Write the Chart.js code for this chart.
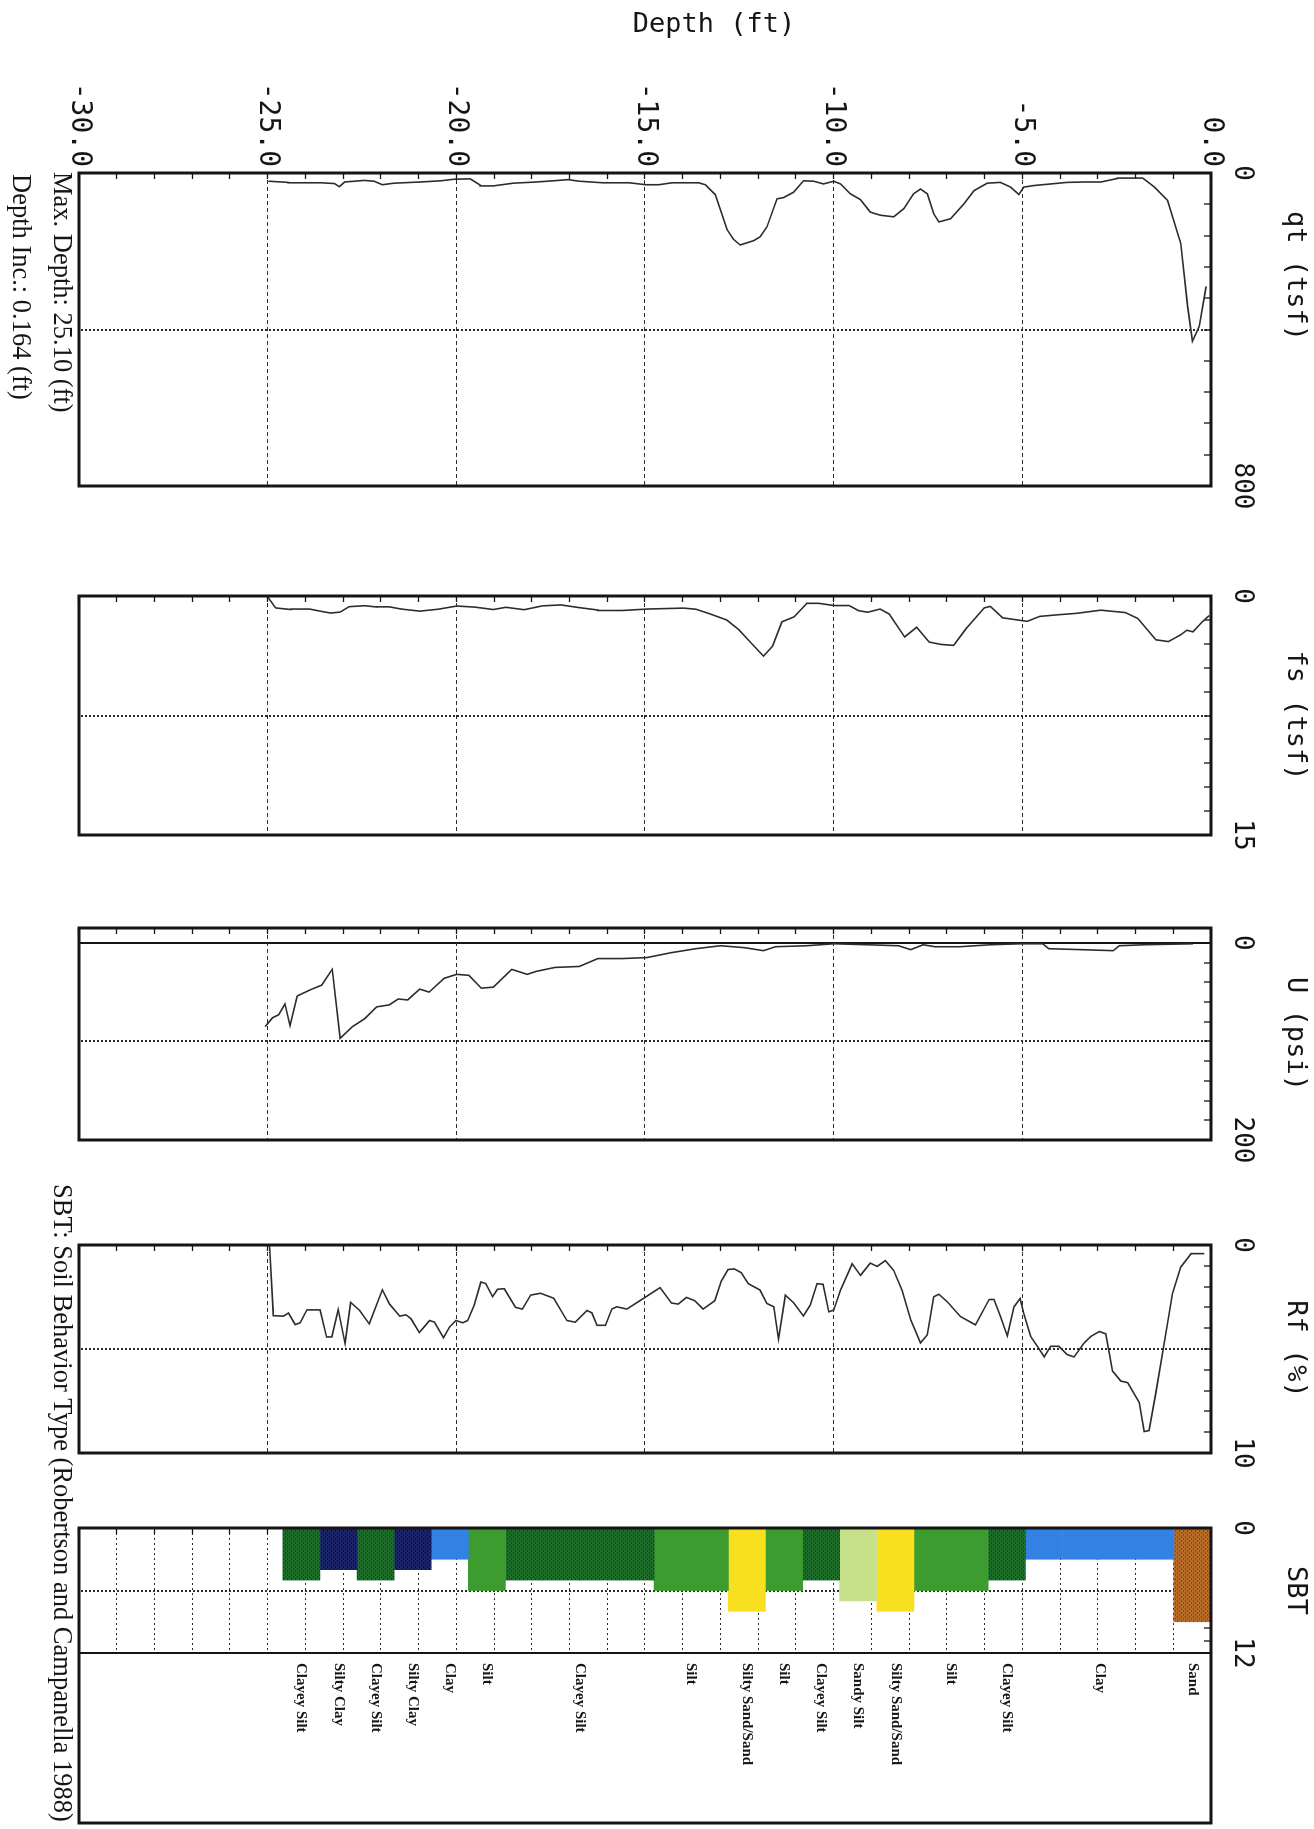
<!DOCTYPE html>
<html>
<head>
<meta charset="utf-8">
<title>CPT sounding log</title>
<script src="https://cdn.jsdelivr.net/npm/chart.js@4.4.1/dist/chart.umd.min.js"></script>
<style>
  html, body { margin: 0; padding: 0; background: #fff; }
  body { width: 1314px; height: 1829px; overflow: hidden; position: relative; }
  /* the log sheet is laid out in portrait-of-depth form and turned a quarter turn clockwise */
  #sheet { position: absolute; left: 0; top: 0; width: 1829px; height: 1314px;
           transform-origin: 0 0; transform: translateX(1314px) rotate(90deg); }
  #sheet canvas { position: absolute; left: 0; top: 0; }
</style>
</head>
<body>
<div id="sheet">
  <canvas id="qt"  width="1829" height="1314"></canvas>
  <canvas id="fs"  width="1829" height="1314"></canvas>
  <canvas id="u"   width="1829" height="1314"></canvas>
  <canvas id="rf"  width="1829" height="1314"></canvas>
  <canvas id="sbt" width="1829" height="1314"></canvas>
</div>
<script>
// ---- sounding data: [depth (ft), value] ----
const qtProfile = [
  [-24.98, 21], [-24.46, 24], [-23.58, 25], [-23.23, 27], [-23.10, 35], [-22.96, 23], [-22.44, 19],
  [-22.18, 21], [-21.96, 30], [-21.65, 26], [-20.95, 23], [-20.42, 20], [-20.07, 16], [-19.63, 15],
  [-19.37, 31], [-19.02, 33], [-18.49, 26], [-17.88, 23], [-17.44, 20], [-17.04, 17], [-16.74, 21],
  [-16.12, 25], [-15.42, 25], [-14.98, 30], [-14.63, 30], [-14.28, 25], [-13.58, 25], [-13.40, 30],
  [-13.14, 55], [-12.96, 106], [-12.83, 144], [-12.66, 169], [-12.48, 184], [-12.12, 173], [-11.95, 163],
  [-11.77, 138], [-11.50, 66], [-11.33, 63], [-11.06, 49], [-10.80, 20], [-10.53, 21], [-10.27, 28],
  [-10.00, 21], [-9.82, 28], [-9.56, 53], [-9.29, 68], [-9.03, 100], [-8.76, 108], [-8.41, 112],
  [-8.14, 91], [-7.88, 53], [-7.70, 41], [-7.52, 53], [-7.35, 104], [-7.21, 125], [-6.90, 117],
  [-6.55, 79], [-6.28, 45], [-5.93, 26], [-5.58, 24], [-5.31, 36], [-5.09, 55], [-4.96, 36],
  [-4.69, 32], [-4.25, 28], [-3.81, 24], [-3.36, 23], [-2.92, 23], [-2.48, 14], [-2.04, 13],
  [-1.81, 13], [-1.50, 36], [-1.15, 70], [-0.80, 180], [-0.62, 341], [-0.49, 430], [-0.31, 392],
  [-0.13, 290]
];

const fsProfile = [
  [-25.00, 0.05], [-24.79, 0.75], [-24.38, 0.85], [-23.89, 0.82], [-23.57, 0.97], [-23.33, 1.07],
  [-23.08, 1.01], [-22.84, 0.67], [-22.43, 0.61], [-22.11, 0.69], [-21.78, 0.68], [-21.46, 0.82],
  [-20.97, 0.95], [-20.48, 0.83], [-19.99, 0.63], [-19.50, 0.70], [-19.02, 0.85], [-18.69, 0.71],
  [-18.20, 0.86], [-17.72, 0.62], [-17.23, 0.56], [-16.74, 0.73], [-16.25, 0.88], [-15.60, 0.91],
  [-14.95, 0.82], [-13.98, 0.76], [-13.65, 0.83], [-13.33, 1.08], [-12.84, 1.50], [-12.51, 2.12],
  [-12.19, 2.94], [-11.86, 3.77], [-11.62, 3.15], [-11.37, 1.62], [-11.05, 1.31], [-10.72, 0.49],
  [-10.40, 0.46], [-9.99, 0.60], [-9.59, 0.60], [-9.34, 0.92], [-9.10, 1.02], [-8.77, 0.82],
  [-8.53, 1.13], [-8.12, 2.57], [-7.80, 1.96], [-7.47, 2.89], [-7.15, 3.04], [-6.82, 3.10],
  [-6.50, 2.08], [-6.01, 0.75], [-5.85, 0.65], [-5.52, 1.37], [-5.20, 1.48], [-4.87, 1.59],
  [-4.54, 1.28], [-4.06, 1.18], [-3.57, 1.09], [-2.92, 0.89], [-2.27, 1.04], [-1.94, 1.41],
  [-1.46, 2.75], [-1.13, 2.86], [-0.81, 2.45], [-0.64, 2.15], [-0.48, 2.25], [-0.24, 1.64],
  [-0.05, 1.23]
];

const uProfile = [
  [-25.07, 85], [-24.87, 76], [-24.71, 73], [-24.54, 62], [-24.41, 84], [-24.22, 54], [-23.89, 48],
  [-23.57, 43], [-23.29, 27], [-23.08, 97], [-22.75, 85], [-22.43, 77], [-22.11, 65], [-21.78, 63],
  [-21.54, 57], [-21.29, 58], [-20.97, 47], [-20.72, 50], [-20.32, 36], [-19.99, 32], [-19.67, 33],
  [-19.34, 46], [-19.02, 45], [-18.53, 27], [-18.12, 32], [-17.88, 29], [-17.39, 25], [-16.74, 24],
  [-16.25, 16], [-15.60, 16], [-14.95, 15], [-14.30, 10], [-13.65, 6], [-13.00, 3], [-12.35, 5],
  [-11.86, 8], [-11.54, 4], [-10.72, 3], [-9.99, 1], [-9.10, 2], [-8.28, 3], [-7.96, 7], [-7.63, 2],
  [-7.31, 4], [-6.66, 4], [-5.85, 2], [-5.03, 1], [-4.46, 1], [-4.30, 6], [-3.41, 7], [-2.59, 8],
  [-2.43, 3], [-1.78, 2], [-0.48, 1]
];

const rfProfile = [
  [-24.95, 0.0], [-24.85, 3.40], [-24.58, 3.42], [-24.45, 3.27], [-24.27, 3.83], [-24.14, 3.74],
  [-23.96, 3.12], [-23.61, 3.12], [-23.44, 4.42], [-23.30, 4.42], [-23.13, 3.11], [-22.95, 4.73],
  [-22.80, 2.76], [-22.56, 3.15], [-22.31, 3.79], [-21.96, 2.16], [-21.77, 2.84], [-21.50, 3.42],
  [-21.33, 3.36], [-21.20, 3.55], [-20.98, 4.21], [-20.71, 3.63], [-20.58, 3.71], [-20.34, 4.46],
  [-20.18, 3.94], [-20.01, 3.63], [-19.83, 3.74], [-19.70, 3.63], [-19.53, 2.92], [-19.35, 1.78],
  [-19.22, 1.85], [-19.04, 2.48], [-18.91, 2.13], [-18.73, 2.10], [-18.43, 3.00], [-18.25, 3.08],
  [-18.03, 2.41], [-17.77, 2.32], [-17.42, 2.56], [-17.07, 3.63], [-16.85, 3.71], [-16.54, 3.15],
  [-16.41, 3.26], [-16.27, 3.86], [-16.05, 3.86], [-15.88, 3.08], [-15.75, 2.97], [-15.48, 3.08],
  [-15.00, 2.52], [-14.60, 2.05], [-14.30, 2.79], [-14.12, 2.84], [-13.90, 2.52], [-13.68, 2.68],
  [-13.46, 3.08], [-13.15, 2.68], [-12.98, 1.74], [-12.80, 1.18], [-12.63, 1.15], [-12.45, 1.33],
  [-12.26, 1.86], [-11.95, 2.17], [-11.77, 2.81], [-11.59, 2.97], [-11.46, 4.52], [-11.28, 2.41],
  [-11.06, 2.78], [-10.80, 3.41], [-10.62, 2.89], [-10.44, 1.86], [-10.28, 1.89], [-10.13, 3.21],
  [-10.00, 3.13], [-9.82, 2.17], [-9.51, 0.90], [-9.29, 1.46], [-9.03, 0.87], [-8.85, 1.03],
  [-8.63, 0.75], [-8.41, 1.22], [-8.19, 2.17], [-7.96, 3.60], [-7.70, 4.71], [-7.52, 4.32],
  [-7.35, 2.49], [-7.21, 2.37], [-6.99, 2.73], [-6.64, 3.44], [-6.24, 3.84], [-5.88, 2.62],
  [-5.75, 2.62], [-5.58, 3.44], [-5.40, 4.37], [-5.22, 2.97], [-5.06, 2.57], [-4.96, 3.29],
  [-4.78, 4.40], [-4.60, 4.87], [-4.42, 5.38], [-4.25, 4.87], [-4.03, 4.87], [-3.81, 5.27],
  [-3.63, 5.38], [-3.36, 4.71], [-3.19, 4.40], [-2.96, 4.16], [-2.79, 4.27], [-2.61, 6.06],
  [-2.39, 6.54], [-2.21, 6.62], [-1.90, 7.57], [-1.77, 8.97], [-1.64, 8.92], [-1.46, 7.10],
  [-1.24, 4.71], [-1.02, 2.33], [-0.80, 1.06], [-0.53, 0.43], [-0.35, 0.40], [-0.18, 0.43]
];

// soil behaviour type, one entry per 0.3 m (0.984 ft) layer, top down
const sbtDepth = [
  -0.492, -1.476, -2.460, -3.444, -4.428, -5.412, -6.396, -7.380, -8.364, -9.348,
  -10.332, -11.316, -12.300, -13.284, -14.268, -15.252, -16.236, -17.220, -18.204, -19.188,
  -20.172, -21.156, -22.140, -23.124, -24.108
];
const sbtSoil = [
  'Sand', 'Clay', 'Clay', 'Clay', 'Clay', 'Clayey Silt', 'Silt', 'Silt', 'Silty Sand/Sand', 'Sandy Silt',
  'Clayey Silt', 'Silt', 'Silty Sand/Sand', 'Silt', 'Silt', 'Clayey Silt', 'Clayey Silt', 'Clayey Silt',
  'Clayey Silt', 'Silt', 'Clay', 'Silty Clay', 'Clayey Silt', 'Silty Clay', 'Clayey Silt'
];
const sbtZone = [9, 3, 3, 3, 3, 5, 6, 6, 8, 7, 5, 6, 8, 6, 6, 5, 5, 5, 5, 6, 3, 4, 5, 4, 5];

// ---- axes ----
const depthRange = [-30, 0];
const panelTitles = ['qt (tsf)', 'fs (tsf)', 'U (psi)', 'Rf (%)', 'SBT'];
const panelRanges = [[0, 800], [0, 15], [0, 200], [0, 10], [0, 12]];

// ---- sheet geometry (unrotated sheet pixels) ----
const SHEET = { w: 1829, h: 1314, top: 103, bottom: 1235 };
const SPANS = [[173, 486], [596, 835], [928, 1140], [1245, 1453], [1528, 1653]];
const SBT_BOX_END = 1823;

const MONO = '"DejaVu Sans Mono", monospace';
const SERIF = '"Liberation Serif", "Times New Roman", serif';
const INK = '#151515';
const CLEAR = 'rgba(0,0,0,0)';

Chart.defaults.font.family = MONO;
Chart.defaults.color = INK;

function stipple(canvas, base, dot) {
  const tile = document.createElement('canvas');
  tile.width = 4; tile.height = 4;
  const g = tile.getContext('2d');
  g.fillStyle = base; g.fillRect(0, 0, 4, 4);
  g.fillStyle = dot; g.fillRect(0, 0, 2, 1); g.fillRect(2, 2, 2, 1);
  return canvas.getContext('2d').createPattern(tile, 'repeat');
}

const framePlugin = (extendTo) => ({
  id: 'panelFrame',
  afterDraw(chart) {
    const { ctx, chartArea: a } = chart;
    ctx.save();
    ctx.strokeStyle = INK;
    ctx.lineWidth = 3;
    ctx.strokeRect(a.left, a.top, (extendTo || a.right) - a.left, a.bottom - a.top);
    if (extendTo) {
      ctx.lineWidth = 2;
      ctx.beginPath(); ctx.moveTo(a.right, a.top); ctx.lineTo(a.right, a.bottom); ctx.stroke();
    }
    ctx.restore();
  }
});

const captionPlugin = (items) => ({
  id: 'sheetCaptions',
  afterDraw(chart) {
    const ctx = chart.ctx;
    for (const c of items) {
      ctx.save();
      ctx.translate(c.x, c.y);
      ctx.rotate(c.rotate || 0);
      ctx.font = c.font;
      ctx.fillStyle = INK;
      ctx.textAlign = c.align;
      ctx.textBaseline = 'middle';
      ctx.fillText(c.text, 0, 0);
      ctx.restore();
    }
  }
});

const sbtLabelPlugin = {
  id: 'sbtLabels',
  afterDraw(chart) {
    const { ctx, chartArea: a, scales: { y } } = chart;
    ctx.save();
    ctx.font = 'bold 15px ' + SERIF;
    ctx.fillStyle = INK;
    ctx.textAlign = 'left';
    ctx.textBaseline = 'middle';
    let start = 0;
    for (let i = 1; i <= sbtSoil.length; i++) {
      if (i === sbtSoil.length || sbtSoil[i] !== sbtSoil[start]) {
        const centre = (sbtDepth[start] + sbtDepth[i - 1]) / 2;
        ctx.fillText(sbtSoil[start], a.right + 10, y.getPixelForValue(centre));
        start = i;
      }
    }
    ctx.restore();
  }
};

function panelChart(id, spec) {
  const [lo, hi] = spec.range;
  const axisLo = spec.axisMin !== undefined ? spec.axisMin : lo;
  const tickValues = [];
  for (let k = 0; k <= 10; k++) tickValues.push(lo + (hi - lo) * k / 10);
  const mid = (lo + hi) / 2;
  const yBox = spec.depthLabels ? spec.span[0] : 24;
  const everyFoot = !!spec.everyFoot;

  const isMid = c => c.tick && Math.abs(c.tick.value - mid) < 1e-9;
  const isZero = c => spec.zeroLine && c.tick && c.tick.value === 0;
  const depthLine = c => {
    if (!c.tick) return false;
    const v = c.tick.value;
    if (v <= depthRange[0] || v >= depthRange[1]) return false;
    return everyFoot || v % 5 === 0;
  };

  const plugins = [framePlugin(spec.extendTo)].concat(spec.plugins || []);

  return new Chart(document.getElementById(id), {
    type: spec.type,
    data: spec.data,
    options: {
      responsive: false,
      animation: false,
      events: [],
      indexAxis: spec.indexAxis || 'x',
      layout: { padding: { left: spec.span[0] - yBox, right: SHEET.w - spec.span[1], top: 0, bottom: SHEET.h - SHEET.bottom } },
      plugins: { legend: { display: false }, tooltip: { enabled: false } },
      scales: {
        x: {
          type: 'linear', position: 'top', min: axisLo, max: hi, offset: false, beginAtZero: false,
          afterFit: s => { s.height = SHEET.top; },
          afterBuildTicks: s => { s.ticks = tickValues.map(value => ({ value })); },
          ticks: {
            autoSkip: false, maxRotation: 0, minRotation: 0, padding: 22,
            font: { family: MONO, size: 26 }, color: INK,
            callback: v => (v === lo || v === hi) ? String(v) : ''
          },
          grid: {
            offset: false,
            color: c => isZero(c) ? INK : (isMid(c) ? '#2a2a2a' : CLEAR),
            lineWidth: c => isZero(c) ? 2 : 2,
            tickLength: -7, tickColor: INK, tickWidth: 1.3
          },
          border: { display: false, dash: c => isMid(c) ? [2, 2] : [] },
          title: {
            display: !spec.titleAt, text: spec.title, color: INK,
            font: { family: MONO, size: 27 }, padding: { top: 3, bottom: 0 }
          }
        },
        y: {
          type: 'linear', min: depthRange[0], max: depthRange[1], offset: false,
          afterFit: s => { s.width = yBox; },
          ticks: {
            stepSize: 1, autoSkip: false, display: !!spec.depthLabels, padding: 12,
            font: { family: MONO, size: 28 }, color: INK,
            callback: v => v % 5 === 0 ? v.toFixed(1) : ''
          },
          grid: {
            offset: false,
            color: c => depthLine(c) ? '#2a2a2a' : CLEAR,
            lineWidth: 1,
            tickLength: -6, tickColor: INK, tickWidth: 1.3
          },
          border: { display: false, dash: c => c.tick ? (everyFoot ? [2, 3] : [4, 3]) : [] }
        }
      }
    },
    plugins
  });
}

function lineData(profile) {
  return {
    datasets: [{
      data: profile.map(([d, v]) => ({ x: v, y: d })),
      showLine: true, borderColor: '#2c2c2c', borderWidth: 1.6,
      pointRadius: 0, tension: 0
    }]
  };
}

// tip resistance, with the sheet captions
panelChart('qt', {
  type: 'scatter', data: lineData(qtProfile), title: panelTitles[0], range: panelRanges[0],
  span: SPANS[0], depthLabels: true, titleAt: true,
  plugins: [captionPlugin([
    { text: panelTitles[0], x: 276, y: 19, align: 'center', font: '27px ' + MONO },
    { text: 'Depth (ft)', x: 25, y: 600, rotate: -Math.PI / 2, align: 'center', font: '27px ' + MONO },
    { text: 'Max. Depth: 25.10 (ft)', x: 172, y: 1253, align: 'left', font: '26.5px ' + SERIF },
    { text: 'Depth Inc.: 0.164 (ft)', x: 174, y: 1294, align: 'left', font: '26.5px ' + SERIF },
    { text: 'SBT: Soil Behavior Type (Robertson and Campanella 1988)', x: 1184, y: 1253, align: 'left', font: '26.5px ' + SERIF }
  ])]
});

panelChart('fs', { type: 'scatter', data: lineData(fsProfile), title: panelTitles[1], range: panelRanges[1], span: SPANS[1] });

panelChart('u', { type: 'scatter', data: lineData(uProfile), title: panelTitles[2], range: panelRanges[2], span: SPANS[2], axisMin: -15, zeroLine: true });

panelChart('rf', { type: 'scatter', data: lineData(rfProfile), title: panelTitles[3], range: panelRanges[3], span: SPANS[3] });

// soil behaviour type column
const sbtCanvas = document.getElementById('sbt');
const sbtFill = {
  'Sand': stipple(sbtCanvas, '#b86c2a', '#8a4a14'),
  'Clay': '#3481e4',
  'Clayey Silt': stipple(sbtCanvas, '#1f6d2b', '#114a19'),
  'Silt': '#3d9c2f',
  'Silty Sand/Sand': '#f8e01e',
  'Sandy Silt': '#c7e08a',
  'Silty Clay': stipple(sbtCanvas, '#1b2468', '#0c123e')
};

panelChart('sbt', {
  type: 'bar', indexAxis: 'y', title: panelTitles[4], range: panelRanges[4], span: SPANS[4],
  everyFoot: true, extendTo: SBT_BOX_END,
  data: {
    datasets: [{
      data: sbtDepth.map((d, i) => ({ x: sbtZone[i], y: d })),
      backgroundColor: sbtSoil.map(s => sbtFill[s]),
      borderWidth: 0, barPercentage: 1, categoryPercentage: 1
    }]
  },
  plugins: [sbtLabelPlugin]
});
</script>
</body>
</html>
